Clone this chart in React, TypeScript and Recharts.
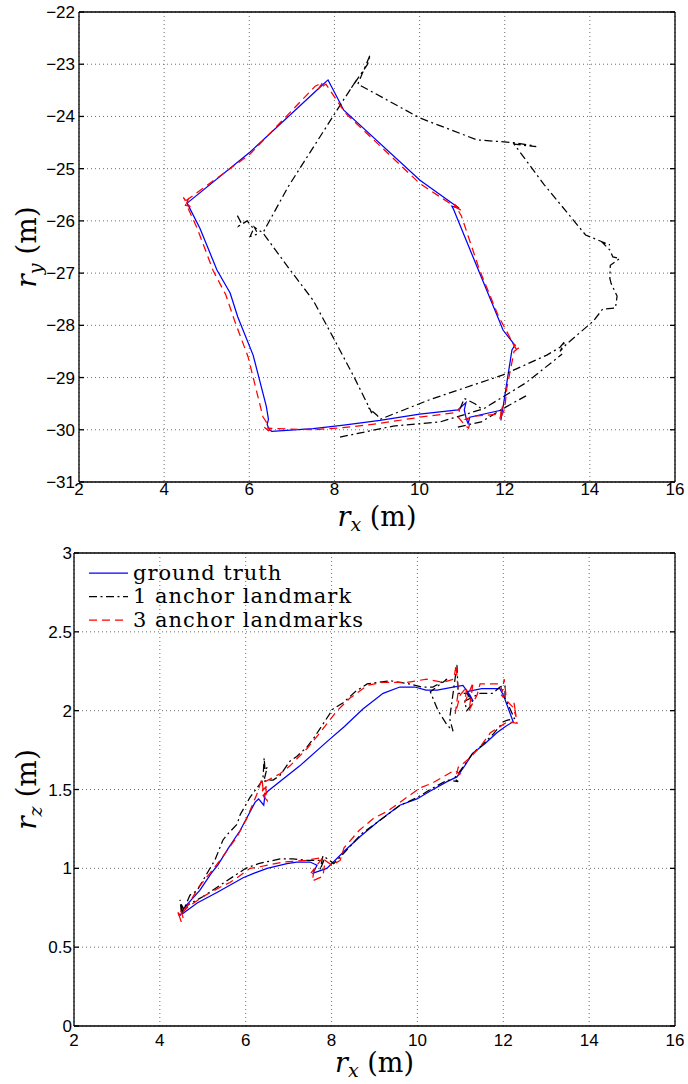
import React from 'react';
import { ScatterChart, Scatter, XAxis, YAxis, CartesianGrid } from 'recharts';

type Pt = [number, number];

const xTicks = [2, 4, 6, 8, 10, 12, 14, 16];
const ryTicks = [-31, -30, -29, -28, -27, -26, -25, -24, -23, -22];
const rzTicks = [0, 0.5, 1, 1.5, 2, 2.5, 3];
const legendLabels = ['ground truth', '1 anchor landmark', '3 anchor landmarks'];

// ---- top panel: r_x vs r_y ----
const groundTruthXY: Pt[] = [
  [4.54, -25.66], [4.84, -26.14], [5.24, -26.94], [5.55, -27.38], [5.73, -27.84], [6.09, -28.57],
  [6.4, -29.55], [6.45, -29.8], [6.42, -29.9], [6.47, -30.0], [6.53, -30.03], [7.5, -29.98],
  [8.22, -29.91], [9.07, -29.82], [10.0, -29.7], [10.9, -29.62], [11.09, -29.48], [11.05, -29.62],
  [11.1, -29.8], [11.14, -29.88], [11.18, -29.76], [11.94, -29.62], [11.91, -29.82], [11.93, -29.7],
  [11.96, -29.57], [12.17, -28.47], [12.24, -28.38], [11.96, -28.09], [11.8, -27.77], [11.35, -26.88],
  [10.8, -25.78], [10.76, -25.72], [10.93, -25.76], [10.01, -25.22], [8.22, -23.88], [7.85, -23.3],
  [7.66, -23.44], [6.02, -24.68], [4.54, -25.66],
];

const threeAnchorXY: Pt[] = [
  [4.5, -25.62], [4.45, -25.55], [4.6, -25.72], [4.5, -25.7], [4.58, -25.56], [4.52, -25.68],
  [4.78, -26.15], [5.15, -26.95], [5.45, -27.42], [5.65, -27.9], [5.97, -28.6], [6.32, -29.75],
  [6.4, -29.85], [6.35, -29.95], [6.45, -30.02], [6.55, -29.98], [6.42, -29.97], [7.5, -30.0],
  [8.2, -29.96], [9.05, -29.88], [10.0, -29.76], [10.85, -29.67], [10.95, -29.58], [10.9, -29.75],
  [11.05, -29.9], [11.15, -29.97], [11.2, -29.82], [11.08, -29.8], [11.25, -29.74], [11.9, -29.7],
  [11.95, -29.55], [11.88, -29.82], [12.0, -29.6], [12.05, -29.2], [12.22, -28.5], [12.35, -28.42],
  [12.2, -28.36], [12.3, -28.5], [11.85, -27.82], [11.4, -26.92], [10.98, -25.9], [10.82, -25.68],
  [10.98, -25.8], [10.85, -25.74], [10.0, -25.28], [8.25, -23.93], [7.8, -23.38], [7.62, -23.48],
  [7.72, -23.35], [7.55, -23.42], [6.02, -24.72], [4.5, -25.62],
];

const oneAnchorXY: Pt[] = [
  [5.72, -25.9], [5.8, -26.02], [5.75, -26.1], [5.95, -26.0], [6.1, -26.15], [6.02, -26.3],
  [6.2, -26.25], [6.12, -26.12], [6.32, -26.23], [6.96, -26.94], [7.5, -27.52], [7.97, -28.23],
  [8.48, -29.02], [8.88, -29.68], [8.8, -29.58], [9.0, -29.72], [9.07, -29.8], [10.25, -29.42],
  [11.96, -28.95], [12.99, -28.57], [13.3, -28.42], [13.42, -28.3], [13.3, -28.5], [13.45, -28.36],
  [14.08, -27.92], [14.3, -27.69], [14.6, -27.67], [14.64, -27.44], [14.5, -27.2], [14.47, -27.1],
  [14.48, -26.85], [14.7, -26.72], [14.54, -26.69], [14.47, -26.56], [14.3, -26.42], [14.47, -26.46],
  [13.9, -26.27], [12.92, -25.3], [12.22, -24.53], [12.74, -24.58], [12.6, -24.55], [12.2, -24.5],
  [11.35, -24.45], [10.01, -24.03], [8.55, -23.38], [8.84, -22.82], [8.78, -23.0], [8.4, -23.45],
  [8.52, -23.3], [8.2, -23.7], [6.91, -25.35], [6.32, -26.23],
];
const oneAnchorXYLower: Pt[] = [
  [8.13, -30.14], [9.38, -29.93], [10.48, -29.85], [11.5, -29.6], [12.5, -29.1], [13.35, -28.55],
];
const oneAnchorXYLoop: Pt[] = [
  [10.9, -29.95], [11.45, -29.85], [11.95, -29.6], [12.5, -29.35],
];
const oneAnchorXYJitter: Pt[] = [
  [10.95, -29.6], [11.05, -29.4], [11.3, -29.5], [11.45, -29.6],
];

// ---- bottom panel: r_x vs r_z ----
const groundTruthXZ: Pt[] = [
  [4.47, 0.7], [4.6, 0.76], [4.93, 0.86], [5.2, 0.97], [5.35, 1.02], [5.6, 1.13], [5.87, 1.24],
  [6.22, 1.42], [6.3, 1.44], [6.42, 1.4], [6.45, 1.47], [6.52, 1.49], [7.26, 1.65], [7.92, 1.81],
  [8.3, 1.9], [8.73, 2.01], [9.2, 2.11], [9.59, 2.15], [9.94, 2.15], [10.2, 2.13], [10.46, 2.13],
  [10.83, 2.15], [11.06, 2.16], [11.22, 2.1], [11.3, 2.06], [11.15, 2.12], [11.5, 2.14], [11.92, 2.14],
  [12.0, 2.1], [12.23, 1.93], [12.05, 1.9], [11.85, 1.86], [11.57, 1.79], [11.29, 1.73], [11.1, 1.65],
  [10.92, 1.58], [10.69, 1.55], [10.3, 1.49], [9.99, 1.44], [9.59, 1.4], [9.1, 1.3], [8.66, 1.2],
  [8.3, 1.11], [7.89, 1.0], [7.57, 0.97], [7.66, 1.02], [7.5, 1.04], [7.19, 1.04], [6.96, 1.03],
  [6.5, 1.0], [6.2, 0.97], [5.94, 0.94], [5.35, 0.85], [4.87, 0.78], [4.52, 0.71],
];

const threeAnchorXZ: Pt[] = [
  [4.45, 0.7], [4.5, 0.66], [4.42, 0.72], [4.55, 0.68], [4.48, 0.74], [4.62, 0.75], [4.9, 0.88],
  [5.17, 0.97], [5.4, 1.05], [5.8, 1.2], [6.03, 1.32], [6.26, 1.47], [6.38, 1.57], [6.42, 1.45],
  [6.48, 1.52], [6.35, 1.48], [6.5, 1.43], [6.45, 1.55], [6.8, 1.6], [7.03, 1.65], [7.43, 1.76],
  [7.73, 1.86], [8.13, 2.0], [8.43, 2.08], [8.83, 2.16], [9.2, 2.18], [9.76, 2.18], [10.22, 2.2],
  [10.6, 2.18], [10.85, 2.2], [10.9, 2.29], [10.95, 2.12], [10.88, 1.98], [11.0, 2.1], [11.15, 2.15],
  [11.1, 2.05], [11.3, 2.18], [11.2, 2.0], [11.39, 2.1], [11.46, 2.17], [11.92, 2.17], [11.98, 2.12],
  [12.02, 2.2], [12.07, 2.08], [11.95, 2.1], [12.23, 2.02], [12.3, 1.96], [12.25, 2.05], [12.32, 1.92],
  [12.1, 1.93], [11.7, 1.86], [11.46, 1.77], [11.22, 1.7], [10.95, 1.64], [10.9, 1.58], [11.0, 1.6],
  [10.85, 1.62], [10.6, 1.58], [10.34, 1.54], [10.06, 1.51], [9.7, 1.44], [9.29, 1.36], [8.99, 1.32],
  [8.64, 1.24], [8.29, 1.13], [8.2, 1.05], [8.01, 1.02], [7.85, 1.05], [7.8, 0.95], [7.55, 0.92],
  [7.6, 1.0], [7.52, 0.97], [7.8, 1.07], [7.4, 1.05], [6.87, 1.04], [6.33, 1.01], [6.1, 1.0],
  [5.8, 0.94], [5.63, 0.91], [5.47, 0.89], [5.0, 0.82], [4.63, 0.75], [4.47, 0.7],
];

const oneAnchorXZ: Pt[] = [
  [4.5, 0.72], [4.47, 0.8], [4.54, 0.71], [4.5, 0.77], [4.56, 0.74], [4.7, 0.83], [4.87, 0.86],
  [5.21, 1.02], [5.28, 1.05], [5.47, 1.18], [5.59, 1.22], [5.8, 1.28], [5.87, 1.34], [6.1, 1.45],
  [6.26, 1.51], [6.4, 1.56], [6.43, 1.7], [6.45, 1.62], [6.5, 1.64], [6.42, 1.55], [6.5, 1.56],
  [6.64, 1.56], [6.8, 1.59], [7.03, 1.68], [7.19, 1.71], [7.43, 1.77], [7.57, 1.82], [8.03, 2.01],
  [8.27, 2.05], [8.55, 2.12], [8.83, 2.17], [9.36, 2.19], [9.8, 2.17], [10.1, 2.15], [10.36, 2.15],
  [10.69, 2.2], [10.3, 2.12], [10.48, 2.0], [10.69, 1.91], [10.83, 1.87], [10.75, 1.95], [10.92, 2.29],
  [10.95, 2.11], [11.15, 2.11], [11.3, 2.05], [11.15, 2.0], [11.1, 2.06], [11.46, 2.11], [11.76, 2.11],
  [11.92, 2.15], [12.04, 2.16], [12.04, 2.08], [12.11, 2.04], [12.26, 1.95], [12.1, 1.94], [12.0, 1.93],
  [11.76, 1.85], [11.5, 1.78], [11.29, 1.73], [10.95, 1.6], [10.85, 1.57], [10.95, 1.55], [10.7, 1.56],
  [10.3, 1.5], [10.0, 1.45], [9.6, 1.4], [9.2, 1.32], [8.7, 1.22], [8.3, 1.1], [8.05, 1.03],
  [7.8, 1.08], [7.73, 0.99], [7.82, 1.05], [7.43, 1.05], [7.1, 1.06], [6.8, 1.06], [6.3, 1.03],
  [6.0, 1.0], [5.5, 0.91], [5.0, 0.82], [4.6, 0.76], [4.5, 0.72],
];

const BLUE = '#0000ff';
const BLACK = '#000000';
const RED = '#ff0000';
const DASH_DOT = '8 3.5 2 3.5';
const DASHED = '8 5';
const LW = 1.25;

const toPts = (arr: Pt[]) => arr.map(([x, y]) => ({ x, y }));
const fmt = (v: number) => (v < 0 ? '\u2212' + Math.abs(v) : String(v));
const NoDot = () => <g />;
const NoTick = () => <g />;

const tickFont = { fill: '#000', fontSize: 17, fontFamily: '"Liberation Sans", Arial, sans-serif' };
const axisStroke = { stroke: '#000', strokeWidth: 1.3 };

const xLabel = (offset: number) => (props: any) => {
  const vb = props.viewBox || {};
  const cx = vb.x + vb.width / 2;
  const cy = vb.y + offset;
  return (
    <text x={cx} y={cy} textAnchor="middle" fontFamily='"DejaVu Serif", serif' fontSize={27} fill="#000">
      <tspan fontStyle="italic">r</tspan>
      <tspan fontStyle="italic" fontSize={19} dy={5}>x</tspan>
      <tspan dy={-5}>{'\u00a0(m)'}</tspan>
    </text>
  );
};

const yLabel = (sub: string) => (props: any) => {
  const vb = props.viewBox || {};
  const cx = vb.x + 36;
  const cy = vb.y + vb.height / 2;
  return (
    <text x={cx} y={cy} textAnchor="middle" fontFamily='"DejaVu Serif", serif' fontSize={28} fill="#000"
      transform={`rotate(-90 ${cx} ${cy})`}>
      <tspan fontStyle="italic">r</tspan>
      <tspan fontStyle="italic" fontSize={19} dy={6}>{sub}</tspan>
      <tspan dy={-6}>{'\u00a0(m)'}</tspan>
    </text>
  );
};

function frame(yTicks: number[], yDomain: [number, number], yWidth: number, xTickMargin: number,
  yTickMargin: number, sub: string, xLabelOffset: number) {
  return [
    <CartesianGrid key="grid" stroke="#6e6e6e" strokeDasharray="1 3" />,
    <XAxis key="xb" xAxisId={0} dataKey="x" type="number" domain={[2, 16]} ticks={xTicks} allowDataOverflow
      interval={0} height={58} tickLine={false} tickSize={0} tickMargin={xTickMargin} axisLine={axisStroke}
      tick={tickFont} label={{ content: xLabel(xLabelOffset) }} />,
    <XAxis key="xbm" xAxisId="bm" type="number" domain={[2, 16]} ticks={xTicks} allowDataOverflow interval={0}
      mirror tickSize={5} tick={NoTick} axisLine={false} tickLine={axisStroke} />,
    <XAxis key="xt" xAxisId="t" orientation="top" type="number" domain={[2, 16]} ticks={xTicks} allowDataOverflow
      interval={0} mirror tickSize={5} tick={NoTick} axisLine={axisStroke} tickLine={axisStroke} />,
    <YAxis key="yl" yAxisId={0} dataKey="y" type="number" domain={yDomain} ticks={yTicks} allowDataOverflow
      interval={0} width={yWidth} tickLine={false} tickSize={0} tickMargin={yTickMargin} axisLine={axisStroke}
      tick={tickFont} tickFormatter={fmt} label={{ content: yLabel(sub) }} />,
    <YAxis key="ylm" yAxisId="lm" type="number" domain={yDomain} ticks={yTicks} allowDataOverflow interval={0}
      mirror tickSize={5} tick={NoTick} axisLine={false} tickLine={axisStroke} />,
    <YAxis key="yr" yAxisId="r" orientation="right" type="number" domain={yDomain} ticks={yTicks} allowDataOverflow
      interval={0} mirror tickSize={5} tick={NoTick} axisLine={axisStroke} tickLine={axisStroke} />,
  ];
}

function path(key: string, data: Pt[], color: string, dash?: string) {
  return (
    <Scatter key={key} data={toPts(data)} fill={color} shape={NoDot} isAnimationActive={false}
      line={{ stroke: color, strokeWidth: LW, strokeDasharray: dash }} lineType="joint" />
  );
}

const legendStyles = [
  { color: BLUE, dash: undefined as string | undefined },
  { color: BLACK, dash: DASH_DOT },
  { color: RED, dash: DASHED },
];

export default function App() {
  return (
    <div style={{ position: 'absolute', left: 0, top: 0, width: 688, height: 1084, background: '#fff' }}>
      <div style={{ position: 'absolute', left: 0, top: 0 }}>
        <ScatterChart width={688} height={540} margin={{ top: 12, right: 13, bottom: 0, left: 0 }}>
          {frame(ryTicks, [-31, -22], 79, 1, 4, 'y', 44)}
          {path('gt', groundTruthXY, BLUE)}
          {path('a1', oneAnchorXY, BLACK, DASH_DOT)}
          {path('a1b', oneAnchorXYLower, BLACK, DASH_DOT)}
          {path('a1c', oneAnchorXYLoop, BLACK, DASH_DOT)}
          {path('a1d', oneAnchorXYJitter, BLACK, DASH_DOT)}
          {path('a3', threeAnchorXY, RED, DASHED)}
        </ScatterChart>
      </div>
      <div style={{ position: 'absolute', left: 0, top: 540 }}>
        <ScatterChart width={688} height={544} margin={{ top: 13, right: 13, bottom: 0, left: 0 }}>
          {frame(rzTicks, [0, 3], 74, 8, 2, 'z', 46)}
          {path('gt', groundTruthXZ, BLUE)}
          {path('a1', oneAnchorXZ, BLACK, DASH_DOT)}
          {path('a3', threeAnchorXZ, RED, DASHED)}
        </ScatterChart>
      </div>
      <svg width={688} height={1084} style={{ position: 'absolute', left: 0, top: 0, pointerEvents: 'none' }}>
        {legendLabels.map((label, i) => {
          const ly = 573 + i * 23.5;
          const s = legendStyles[i];
          return (
            <g key={label}>
              <line x1={89} x2={128} y1={ly} y2={ly} stroke={s.color} strokeWidth={LW} strokeDasharray={s.dash} />
              <text x={133} y={ly + 6.5} fontFamily='"DejaVu Serif", serif' fontSize={21} letterSpacing={1}
                fill="#000">{label}</text>
            </g>
          );
        })}
      </svg>
    </div>
  );
}
